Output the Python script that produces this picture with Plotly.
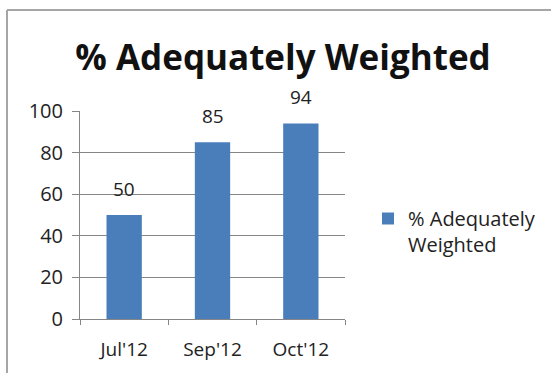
import plotly.graph_objects as go

months = ["Jul'12", "Sep'12", "Oct'12"]
pct_weighted = [50, 85, 94]
series_name = "% Adequately<br>Weighted"
y_ticks = [0, 20, 40, 60, 80, 100]

W, H = 551, 373
L, R, T, B = 80, 206, 111, 54
pw, ph = W - L - R, H - T - B


def px_x(v):
    return (v - L) / pw


def px_y(v):
    return (H - B - v) / ph


fig = go.Figure()
fig.add_trace(go.Bar(
    x=months,
    y=pct_weighted,
    name=series_name,
    marker=dict(color="#4a7ebb", line=dict(width=0)),
    width=0.4,
))

# value labels above each bar
for m, v in zip(months, pct_weighted):
    fig.add_annotation(
        x=m, y=v, text=str(v), showarrow=False,
        yanchor="bottom", yshift=11,
        font=dict(size=19, color="#222222"),
    )

fig.update_layout(
    width=W, height=H,
    margin=dict(l=L, r=R, t=T, b=B, autoexpand=False),
    paper_bgcolor="white",
    plot_bgcolor="white",
    font=dict(family="Open Sans, sans-serif", color="#222222"),
    title=dict(
        text="<b>% Adequately Weighted</b>",
        x=283 / W, xanchor="center", xref="container",
        y=1 - 58 / H, yanchor="middle", yref="container",
        font=dict(size=35, color="#111111"),
    ),
    showlegend=True,
    legend=dict(
        x=px_x(368), xanchor="left",
        y=px_y(199), yanchor="top",
        font=dict(size=20, color="#222222"),
        valign="top",
        bgcolor="rgba(0,0,0,0)",
    ),
    xaxis=dict(
        type="category",
        showline=True, linecolor="#868686", linewidth=1,
        ticks="outside", ticklen=5, tickcolor="#868686",
        tickson="boundaries",
        tickfont=dict(size=19, color="#222222"),
        ticklabelstandoff=13,
        showgrid=False,
    ),
    yaxis=dict(
        range=[0, 100],
        tickvals=y_ticks,
        showline=True, linecolor="#868686", linewidth=1,
        ticks="outside", ticklen=7, tickcolor="#868686",
        gridcolor="#868686", gridwidth=1,
        tickfont=dict(size=20, color="#222222"),
        ticklabelstandoff=5,
        zeroline=False,
    ),
    shapes=[
        dict(type="line", xref="paper", yref="paper",
             x0=px_x(7), x1=px_x(7), y0=px_y(10), y1=px_y(H),
             line=dict(color="#a6a6a6", width=2)),
        dict(type="line", xref="paper", yref="paper",
             x0=px_x(7), x1=px_x(W), y0=px_y(10), y1=px_y(10),
             line=dict(color="#a6a6a6", width=2)),
    ],
)

fig.write_html("out.html")
